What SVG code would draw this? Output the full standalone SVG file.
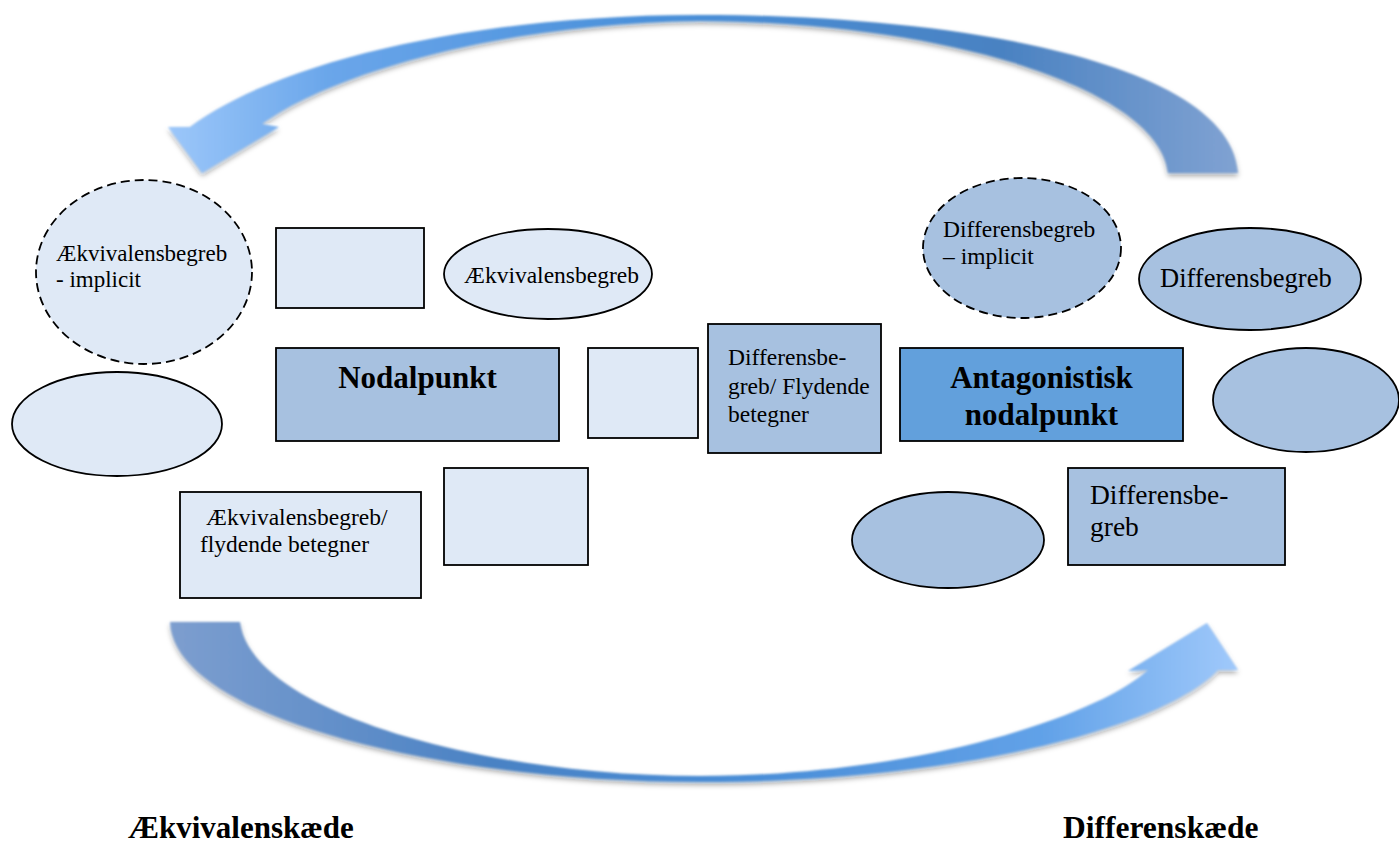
<svg xmlns="http://www.w3.org/2000/svg" width="1399" height="844" viewBox="0 0 1399 844">
<style>
.lt{fill:#dfe9f6;stroke:#000;stroke-width:1.8}
.md{fill:#a7c1e0;stroke:#000;stroke-width:1.8}
.dk{fill:#62a0dc;stroke:#000;stroke-width:1.8}
.dash{stroke-dasharray:9 5}
text{font-family:"Liberation Serif","Times New Roman","DejaVu Serif",serif;fill:#000}
.b{font-weight:bold}
</style>
<defs>
<linearGradient id="gTop" x1="0" y1="0" x2="1" y2="0">
<stop offset="0" stop-color="#9cc7fa"/>
<stop offset="0.15" stop-color="#6aa6ea"/>
<stop offset="0.45" stop-color="#4a90da"/>
<stop offset="0.78" stop-color="#4a82c2"/>
<stop offset="1" stop-color="#80a2d2"/>
</linearGradient>
<linearGradient id="gBot" x1="0" y1="0" x2="1" y2="0">
<stop offset="0" stop-color="#7d9ecf"/>
<stop offset="0.3" stop-color="#4a82c4"/>
<stop offset="0.55" stop-color="#4a8ed8"/>
<stop offset="0.82" stop-color="#62a2e8"/>
<stop offset="1" stop-color="#a0c9fb"/>
</linearGradient>
<filter id="sh" x="-5%" y="-10%" width="110%" height="125%">
<feGaussianBlur in="SourceGraphic" stdDeviation="0.8" result="s"/>
<feDropShadow in="s" dx="0" dy="3" stdDeviation="2.5" flood-color="#000" flood-opacity="0.35"/>
</filter>
</defs>
<g id="connectors">
<path id="arrow-top" fill="url(#gTop)" filter="url(#sh)" d="M 1238 173 C 1230 60, 950 15, 700 15 C 480 15, 280 60, 190 127 L 168 127 L 202 173 L 279 127 L 262 124 C 330 74, 500 23, 700 21 C 950 22, 1160 90, 1168 173 Z"/>
<path id="arrow-bottom" fill="url(#gBot)" filter="url(#sh)" d="M 170 622 C 175 720, 450 782, 700 782 C 950 782, 1160 730, 1218 670 L 1238 670 L 1207 623 L 1128 671 L 1148 670 C 1100 715, 920 776, 700 776 C 480 776, 250 710, 240 622 Z"/>
</g>
<g id="n-aek-implicit"><ellipse class="lt dash" cx="144" cy="272" rx="108" ry="92"/><text x="56" y="261" font-size="23">Ækvivalensbegreb</text><text x="56" y="287" font-size="23">- implicit</text></g>
<g id="n-rect-top"><rect class="lt" x="276" y="228" width="148" height="80"/></g>
<g id="n-aek-ellipse"><ellipse class="lt" cx="548" cy="274" rx="104" ry="45"/><text x="464" y="283" font-size="23.5">Ækvivalensbegreb</text></g>
<g id="n-ellipse-left"><ellipse class="lt" cx="117" cy="424" rx="105" ry="52"/></g>
<g id="n-nodalpunkt"><rect class="md" x="276" y="348" width="283" height="93"/><text class="b" x="417.5" y="388" font-size="31" text-anchor="middle">Nodalpunkt</text></g>
<g id="n-rect-mid"><rect class="lt" x="588" y="348" width="110" height="90"/></g>
<g id="n-rect-low"><rect class="lt" x="444" y="468" width="144" height="97"/></g>
<g id="n-aek-flydende"><rect class="lt" x="180" y="492" width="241" height="106"/><text x="206" y="525" font-size="23.5">Ækvivalensbegreb/</text><text x="200" y="552" font-size="23.5">flydende betegner</text></g>
<g id="n-diff-implicit"><ellipse class="md dash" cx="1022" cy="248" rx="99" ry="70"/><text x="943" y="237" font-size="23.5">Differensbegreb</text><text x="943" y="264" font-size="23.5">– implicit</text></g>
<g id="n-diff-ellipse"><ellipse class="md" cx="1250" cy="279" rx="111" ry="51"/><text x="1160" y="287" font-size="26.5">Differensbegreb</text></g>
<g id="n-diff-flydende"><rect class="md" x="708" y="324" width="173" height="129"/><text x="728" y="365" font-size="23.5">Differensbe-</text><text x="728" y="394" font-size="23.5">greb/ Flydende</text><text x="728" y="422" font-size="23.5">betegner</text></g>
<g id="n-antagonistisk"><rect class="dk" x="900" y="348" width="283" height="93"/><text class="b" x="1041.5" y="388" font-size="31" text-anchor="middle">Antagonistisk</text><text class="b" x="1041.5" y="425" font-size="31" text-anchor="middle">nodalpunkt</text></g>
<g id="n-ellipse-right"><ellipse class="md" cx="1306" cy="400" rx="93" ry="52"/></g>
<g id="n-ellipse-bottom"><ellipse class="md" cx="948" cy="540" rx="96" ry="48"/></g>
<g id="n-diff-rect"><rect class="md" x="1068" y="468" width="217" height="97"/><text x="1090" y="504" font-size="27.5">Differensbe-</text><text x="1090" y="536" font-size="27.5">greb</text></g>
<g id="labels"><text class="b" x="128" y="838" font-size="31">Ækvivalenskæde</text><text class="b" x="1063" y="838" font-size="31.5">Differenskæde</text></g>
</svg>
